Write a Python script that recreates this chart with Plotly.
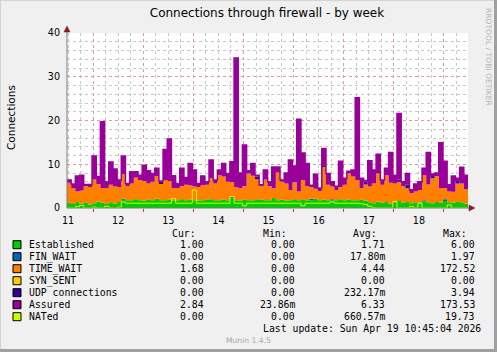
import plotly.graph_objects as go
import pandas as pd
import numpy as np

# ---------------- data (2-hour samples, 12 per day, Apr 10 23:30 -> Apr 18 23:30) ----------------
start_time = "2026-04-10 23:30"
n_points = 96

established = [
    1.2, 0.9, 1.4, 1.0, 1.3, 0.8, 1.1, 1.5, 1.2, 0.9, 1.3, 1.0,
    1.4, 1.9, 1.8, 1.8, 2.0, 1.8, 1.7, 1.9, 1.8, 2.1, 1.8, 1.8,
    1.9, 1.7, 1.8, 2.0, 1.8, 1.9, 1.8, 1.7, 1.8, 1.9, 2.0, 1.8,
    1.8, 1.9, 1.8, 2.2, 1.8, 1.7, 1.9, 1.8, 1.8, 2.0, 1.9, 1.8,
    1.8, 2.3, 1.8, 1.9, 1.7, 1.8, 2.0, 1.8, 1.9, 1.8, 1.8, 2.1,
    1.8, 1.9, 1.8, 1.7, 1.8, 2.0, 1.8, 1.9, 1.8, 1.8, 1.9, 1.7,
    1.3, 1.1, 1.5, 1.2, 1.4, 1.0, 1.3, 1.6, 1.2, 1.4, 1.1, 1.3,
    1.2, 1.5, 1.3, 1.1, 1.4, 1.2, 1.6, 1.3, 1.2, 1.4, 1.3, 1.0,
]
fin_wait = [
    0, 0, 0, 0, 0, 0, 0, 0, 0, 0, 0, 0,
    0, 0.3, 0, 0, 0, 0, 0, 0, 0, 0, 0, 0,
    0, 0, 0, 0, 0, 0, 0, 0, 0, 0, 0, 0,
    0, 0, 0, 0.4, 0, 0, 0, 0, 0, 0, 0, 0,
    0, 0, 0, 0, 0, 0, 0, 0, 0, 0, 0.3, 0,
    0, 0, 0, 0.3, 0, 0, 0, 0, 0, 0, 0, 0,
    0, 0, 0, 0, 0, 0, 0, 0, 0, 0, 0, 0,
    0, 0.3, 0, 0, 0, 0, 0.4, 0, 0, 0, 0, 0,
]
time_wait = [
    4.6, 3.6, 2.4, 3.0, 3.7, 4.0, 5.4, 4.0, 3.3, 3.7, 4.0, 3.9,
    3.4, 5.6, 3.2, 3.8, 5.0, 4.6, 4.5, 3.7, 4.2, 5.2, 3.7, 4.6,
    4.3, 2.8, 2.8, 3.0, 3.5, 3.3, 3.1, 3.1, 3.4, 3.4, 4.8, 3.8,
    5.7, 5.3, 4.2, 3.3, 3.0, 2.8, 3.1, 6.1, 5.6, 4.6, 3.1, 4.7,
    3.2, 2.2, 6.3, 4.1, 3.9, 2.3, 3.9, 2.0, 4.5, 3.2, 2.7, 2.3,
    2.1, 7.5, 3.5, 2.9, 2.3, 2.8, 3.5, 6.0, 5.4, 4.6, 2.6, 3.7,
    3.6, 4.5, 6.4, 4.1, 6.1, 4.8, 4.3, 4.4, 3.8, 3.2, 2.3, 2.5,
    2.9, 5.7, 4.1, 5.7, 5.9, 3.3, 2.6, 2.5, 2.5, 4.2, 4.3, 3.3,
]
syn_sent = [
    0, 0, 0, 0, 0, 0, 0, 0, 0, 0, 0, 0,
    0, 0, 0, 0, 0, 0, 0, 0, 0, 0, 0, 0,
    0, 0, 0, 0, 0, 0, 0, 0, 0, 0, 0, 0,
    0, 0, 0, 0, 0, 0, 0, 0, 0, 0, 0, 0,
    0, 0, 0, 0, 0, 0, 0, 0, 0, 0, 0, 0,
    0, 0, 0, 0, 0, 0, 0, 0, 0, 0, 0, 0,
    0, 0, 0, 0, 0, 0, 0, 0, 0, 0, 0, 0,
    0, 0, 0, 0, 0, 0, 0, 0, 0, 0, 0, 0,
]
udp = [
    0, 0, 0, 0, 0, 0, 0, 0, 0, 0, 0, 0,
    0, 0, 0, 0, 0, 0, 0, 0, 0, 0, 0.5, 0,
    0, 0, 0, 0, 0, 0, 0, 0, 0, 0, 0, 0,
    0, 0, 0, 0, 0, 0, 0, 0, 0, 0.6, 0, 0,
    0, 0, 0, 0, 0, 0, 0, 0, 0, 0, 0, 0,
    0, 0.4, 0, 0, 0, 0, 0, 0, 0, 0, 0, 0.6,
    0, 0, 0, 0, 0, 0, 0, 0.5, 0, 0.8, 0, 0,
    0, 0, 0, 0.5, 0, 0, 0, 0, 0, 0.6, 0, 0,
]
assured = [
    6.4, 5.5, 7.3, 7.5, 5.4, 5.4, 11.9, 7.2, 19.7, 6.0, 10.5, 8.9,
    6.4, 11.9, 5.6, 8.3, 8.3, 7.5, 9.8, 8.5, 7.9, 9.1, 6.2, 13.4,
    15.8, 7.4, 5.6, 9.1, 7.0, 10.2, 8.7, 5.6, 7.3, 6.0, 11.0, 6.4,
    8.7, 10.2, 7.9, 10.6, 34.3, 8.0, 14.4, 8.5, 10.2, 7.5, 5.3, 8.7,
    6.0, 9.4, 9.4, 6.4, 8.0, 11.0, 9.6, 20.3, 12.6, 10.2, 5.2, 7.7,
    4.6, 13.6, 7.9, 6.0, 5.0, 10.7, 6.8, 8.4, 8.7, 25.2, 6.8, 6.3,
    10.8, 8.7, 12.3, 6.4, 9.1, 12.7, 7.5, 21.6, 6.0, 7.9, 4.2, 5.5,
    6.0, 9.1, 12.7, 7.8, 8.0, 14.9, 10.7, 5.3, 7.3, 6.8, 9.3, 7.5,
]
nated = [
    0, 0, 0.3, 0.6, 0, 0, 0.2, 0, 0, 0.4, 0, 0,
    0.2, 1.4, 1.1, 1.1, 1.1, 1.1, 1.1, 1.1, 1.1, 1.1, 1.1, 1.1,
    1.1, 2.2, 1.1, 1.1, 1.1, 1.1, 4.1, 1.1, 1.1, 1.1, 1.1, 1.1,
    1.1, 1.1, 1.1, 2.6, 1.1, 1.1, 0.5, 1.1, 1.1, 1.1, 1.1, 1.1,
    1.1, 1.1, 1.1, 1.1, 1.1, 1.1, 1.1, 1.1, 0.5, 1.1, 1.1, 1.1,
    1.1, 1.1, 1.1, 1.4, 1.1, 1.1, 1.1, 1.1, 1.1, 1.1, 1.0, 0.8,
    0.4, 0.1, 0, 0, 0, 0, 1.5, 0, 0, 0, 0.3, 0,
    1.1, 0, 0, 0, 0, 0, 0, 0.7, 0, 0, 0, 0,
]

day_ticks = ["2026-04-11", "2026-04-12", "2026-04-13", "2026-04-14",
             "2026-04-15", "2026-04-16", "2026-04-17", "2026-04-18"]
day_labels = ["11", "12", "13", "14", "15", "16", "17", "18"]

legend_names = ["Established", "FIN_WAIT", "TIME_WAIT", "SYN_SENT",
                "UDP connections", "Assured", "NATed"]
legend_colors = ["#00CC00", "#0066B3", "#FF8000", "#FFCC00",
                 "#330099", "#990099", "#CCFF00"]
cur_vals = ["1.00", "0.00", "1.68", "0.00", "0.00", "2.84", "0.00"]
min_vals = ["0.00", "0.00", "0.00", "0.00", "0.00", "23.86m", "0.00"]
avg_vals = ["1.71", "17.80m", "4.44", "0.00", "232.17m", "6.33", "660.57m"]
max_vals = ["6.00", "1.97", "172.52", "0.00", "3.94", "173.53", "19.73"]

# ---------------- geometry (pixels) ----------------
W, H = 497, 352
L, R, T, B = 67, 468, 33, 208


def px(x):
    return (x - L) / (R - L)


def py(y):
    return (B - y) / (B - T)


times = pd.date_range(start_time, periods=n_points + 1, freq="2h")


def ext(a):
    return list(a) + [a[-1]]


stack_series = [established, fin_wait, time_wait, syn_sent, udp]
cum = np.cumsum(np.array(stack_series, dtype=float), axis=0)

fig = go.Figure()
for k, arr in enumerate(cum):
    fig.add_trace(go.Scatter(
        x=times, y=ext(arr), mode="lines", line=dict(width=0, shape="hv", color=legend_colors[k]),
        fill="tozeroy" if k == 0 else "tonexty", fillcolor=legend_colors[k],
        hoverinfo="skip", showlegend=False))
fig.add_trace(go.Scatter(
    x=times, y=ext(assured), mode="lines", line=dict(width=1.5, shape="hv", color="#990099"),
    fill="tonexty", fillcolor="#990099", hoverinfo="skip", showlegend=False))
fig.add_trace(go.Scatter(
    x=times, y=ext(nated), mode="lines", line=dict(width=1, shape="hv", color="#CCFF00"),
    hoverinfo="skip", showlegend=False))
# invisible trace to carry the label axis
fig.add_trace(go.Scatter(x=[times[0]], y=[0], xaxis="x2", mode="markers",
                         marker=dict(opacity=0), hoverinfo="skip", showlegend=False))

font_sans = "DejaVu Sans"
font_mono = "DejaVu Sans Mono"

fig.update_layout(
    width=W, height=H, autosize=False,
    margin=dict(l=L, r=W - R, t=T, b=H - B, pad=0),
    paper_bgcolor="#F0F0F0", plot_bgcolor="#FFFFFF",
    title=dict(text="Connections through firewall - by week", x=267 / W, xanchor="center",
               y=1 - 13 / H, yanchor="middle", font=dict(family=font_sans, size=12, color="#000000")),
    xaxis=dict(
        range=[times[0], times[-1]], type="date",
        tick0="2026-04-10 12:00", dtick=86400000, showticklabels=False,
        ticks="outside", ticklen=3, tickcolor="#D04040", tickwidth=1,
        showgrid=True, gridcolor="#E59A9A", griddash="dot", gridwidth=1,
        minor=dict(dtick=6 * 3600000, tick0="2026-04-10 00:00", showgrid=True,
                   gridcolor="#C8C8C8", griddash="dot", gridwidth=1, ticks=""),
        showline=False, zeroline=False, fixedrange=True,
    ),
    xaxis2=dict(
        overlaying="x", matches="x", side="bottom", anchor="y", type="date",
        tickmode="array", tickvals=day_ticks, ticktext=day_labels,
        ticks="outside", ticklen=3, tickcolor="rgba(0,0,0,0)",
        tickfont=dict(family=font_sans, size=9.6, color="#000000"),
        showgrid=False, showline=False, zeroline=False,
    ),
    yaxis=dict(
        range=[0, 40], dtick=10, tick0=0,
        tickfont=dict(family=font_sans, size=9.6, color="#000000"),
        ticks="outside", ticklen=4, tickcolor="rgba(0,0,0,0)",
        showgrid=True, gridcolor="#E59A9A", griddash="dot", gridwidth=1,
        minor=dict(dtick=2, showgrid=True, gridcolor="#C8C8C8", griddash="dot", gridwidth=1),
        showline=False, zeroline=False,
    ),
)

shapes = []
# border
shapes.append(dict(type="line", xref="paper", yref="paper", x0=px(0), x1=px(W), y0=py(0.5), y1=py(0.5),
                   line=dict(color="#D4D4D4", width=1)))
shapes.append(dict(type="line", xref="paper", yref="paper", x0=px(0.5), x1=px(0.5), y0=py(0), y1=py(H),
                   line=dict(color="#D4D4D4", width=1)))
shapes.append(dict(type="line", xref="paper", yref="paper", x0=px(0), x1=px(W), y0=py(H - 1.5), y1=py(H - 1.5),
                   line=dict(color="#A0A0A0", width=3)))
shapes.append(dict(type="line", xref="paper", yref="paper", x0=px(W - 1.5), x1=px(W - 1.5), y0=py(0), y1=py(H),
                   line=dict(color="#A0A0A0", width=3)))
# axes lines
shapes.append(dict(type="line", xref="paper", yref="paper", x0=px(67), x1=px(67), y0=py(208), y1=py(30),
                   line=dict(color="#7A7A7A", width=1)))
shapes.append(dict(type="line", xref="paper", yref="paper", x0=px(67), x1=px(470), y0=py(208), y1=py(208),
                   line=dict(color="#7A7A7A", width=1)))
# arrows
shapes.append(dict(type="path", xref="paper", yref="paper",
                   path=f"M {px(67)},{py(26)} L {px(64)},{py(32)} L {px(70)},{py(32)} Z",
                   fillcolor="#8B1A1A", line=dict(color="#8B1A1A", width=0.5)))
shapes.append(dict(type="path", xref="paper", yref="paper",
                   path=f"M {px(475)},{py(208)} L {px(469)},{py(205)} L {px(469)},{py(211)} Z",
                   fillcolor="#8B1A1A", line=dict(color="#8B1A1A", width=0.5)))

annotations = []
# y axis title
annotations.append(dict(text="Connections", xref="paper", yref="paper", x=px(11), y=py(118),
                        showarrow=False, textangle=-90, xanchor="center", yanchor="middle",
                        font=dict(family=font_sans, size=10.5, color="#000000")))
# RRDTOOL credit
annotations.append(dict(text="RRDTOOL / TOBI OETIKER", xref="paper", yref="paper", x=px(489), y=py(57),
                        showarrow=False, textangle=90, xanchor="center", yanchor="middle",
                        font=dict(family=font_sans, size=7.6, color="#B4B4B4")))

mono = dict(family=font_mono, size=9.8, color="#000000")
header_y = 233.5
for txt, xr in zip(["Cur:", "Min:", "Avg:", "Max:"], [198, 289, 379, 469]):
    annotations.append(dict(text=txt, xref="paper", yref="paper", x=px(xr), y=py(header_y),
                            showarrow=False, xanchor="right", yanchor="middle", font=mono))

for k, name in enumerate(legend_names):
    cy = 244.7 + 12 * k
    shapes.append(dict(type="rect", xref="paper", yref="paper", x0=px(13), x1=px(21), y0=py(cy + 4), y1=py(cy - 4),
                       fillcolor=legend_colors[k], line=dict(color="#000000", width=1)))
    annotations.append(dict(text=name, xref="paper", yref="paper", x=px(26.5), y=py(cy),
                            showarrow=False, xanchor="left", yanchor="middle", font=mono))
    for vals, xr in zip([cur_vals, min_vals, avg_vals, max_vals], [206, 297, 387, 477]):
        annotations.append(dict(text=vals[k], xref="paper", yref="paper", x=px(xr), y=py(cy),
                                showarrow=False, xanchor="right", yanchor="middle", font=mono))

annotations.append(dict(text="Last update: Sun Apr 19 10:45:04 2026", xref="paper", yref="paper",
                        x=px(483), y=py(328.7), showarrow=False, xanchor="right", yanchor="middle", font=mono))
annotations.append(dict(text="Munin 1.4.5", xref="paper", yref="paper", x=px(248), y=py(340.7),
                        showarrow=False, xanchor="center", yanchor="middle",
                        font=dict(family=font_sans, size=7.6, color="#A8A8A8")))

fig.update_layout(shapes=shapes, annotations=annotations)
fig.write_html("out.html")
